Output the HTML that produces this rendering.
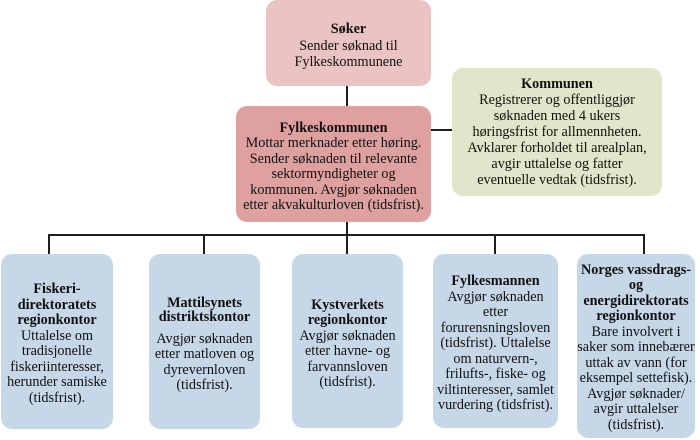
<!DOCTYPE html>
<html>
<head>
<meta charset="utf-8">
<style>
  html,body{margin:0;padding:0;background:#fff;}
  body{width:700px;height:440px;position:relative;overflow:hidden;
    font-family:"Liberation Serif","DejaVu Serif",serif;color:#111;}
  .box{position:absolute;border-radius:11px;display:flex;flex-direction:column;
    justify-content:center;align-items:center;text-align:center;box-sizing:border-box;}
  .box div{white-space:nowrap;font-size:14.2px;line-height:15.5px;
    font-family:"Liberation Serif","DejaVu Serif",serif;}
  .box b{font-weight:bold;}
  .ln{position:absolute;background:#1e1e1e;}
  .pink{background:#eac3c3;}
  .red{background:#dfa1a0;}
  .green{background:#dfe6c9;}
  .blue{background:#c6d7e7;}
</style>
</head>
<body>
<!-- connectors -->
<div class="ln" style="left:346px;top:86px;width:2px;height:20px;"></div>
<div class="ln" style="left:431px;top:129px;width:21px;height:2px;"></div>
<div class="ln" style="left:346px;top:222px;width:2px;height:32px;"></div>
<div class="ln" style="left:48px;top:234px;width:597px;height:2px;"></div>
<div class="ln" style="left:48px;top:234px;width:2px;height:20px;"></div>
<div class="ln" style="left:203px;top:234px;width:2px;height:20px;"></div>
<div class="ln" style="left:494px;top:234px;width:2px;height:20px;"></div>
<div class="ln" style="left:643px;top:234px;width:2px;height:20px;"></div>

<!-- Søker -->
<div class="box pink" style="left:266px;top:0px;width:165px;height:86px;padding-top:6px;">
  <div><b>Søker</b></div>
  <div style="line-height:16px">Sender søknad til</div>
  <div style="line-height:16px">Fylkeskommunene</div>
</div>

<!-- Fylkeskommunen -->
<div class="box red" style="left:236px;top:106px;width:195px;height:116px;padding-top:6px;">
  <div><b>Fylkeskommunen</b></div>
  <div>Mottar merknader etter høring.</div>
  <div>Sender søknaden til relevante</div>
  <div>sektormyndigheter og</div>
  <div>kommunen. Avgjør søknaden</div>
  <div>etter akvakulturloven (tidsfrist).</div>
</div>

<!-- Kommunen -->
<div class="box green" style="left:452px;top:68px;width:210px;height:128px;padding-bottom:1px;">
  <div style="line-height:16px"><b>Kommunen</b></div>
  <div style="line-height:16px">Registrerer og offentliggjør</div>
  <div style="line-height:16px">søknaden med 4 ukers</div>
  <div style="line-height:16px">høringsfrist for allmennheten.</div>
  <div style="line-height:16px">Avklarer forholdet til arealplan,</div>
  <div style="line-height:16px">avgir uttalelse og fatter</div>
  <div style="line-height:16px">eventuelle vedtak (tidsfrist).</div>
</div>

<!-- Box 1 -->
<div class="box blue" style="left:1px;top:254px;width:112px;height:175px;padding-top:5px;">
  <div><b>Fiskeri-</b></div>
  <div><b>direktoratets</b></div>
  <div><b>regionkontor</b></div>
  <div>Uttalelse om</div>
  <div>tradisjonelle</div>
  <div>fiskeriinteresser,</div>
  <div>herunder samiske</div>
  <div>(tidsfrist).</div>
</div>

<!-- Box 2 -->
<div class="box blue" style="left:149px;top:254px;width:111px;height:175px;padding-top:6px;">
  <div style="line-height:14.5px"><b>Mattilsynets</b></div>
  <div style="line-height:14.5px"><b>distriktskontor</b></div>
  <div style="margin-top:7px">Avgjør søknaden</div>
  <div>etter matloven og</div>
  <div>dyrevernloven</div>
  <div>(tidsfrist).</div>
</div>

<!-- Box 3 -->
<div class="box blue" style="left:292px;top:254px;width:111px;height:174px;padding-top:6px;">
  <div><b>Kystverkets</b></div>
  <div><b>regionkontor</b></div>
  <div>Avgjør søknaden</div>
  <div>etter havne- og</div>
  <div>farvannsloven</div>
  <div>(tidsfrist).</div>
</div>

<!-- Box 4 -->
<div class="box blue" style="left:433px;top:254px;width:125px;height:174px;padding-top:6px;">
  <div><b>Fylkesmannen</b></div>
  <div>Avgjør søknaden</div>
  <div>etter</div>
  <div>forurensningsloven</div>
  <div>(tidsfrist). Uttalelse</div>
  <div>om naturvern-,</div>
  <div>frilufts-, fiske- og</div>
  <div>viltinteresser, samlet</div>
  <div>vurdering (tidsfrist).</div>
</div>

<!-- Box 5 -->
<div class="box blue" style="left:577px;top:254px;width:118px;height:184px;padding-top:4px;">
  <div><b>Norges vassdrags-</b></div>
  <div><b>og</b></div>
  <div><b>energidirektorats</b></div>
  <div><b>regionkontor</b></div>
  <div>Bare involvert i</div>
  <div>saker som innebærer</div>
  <div>uttak av vann (for</div>
  <div>eksempel settefisk).</div>
  <div>Avgjør søknader/</div>
  <div>avgir uttalelser</div>
  <div>(tidsfrist).</div>
</div>
</body>
</html>
